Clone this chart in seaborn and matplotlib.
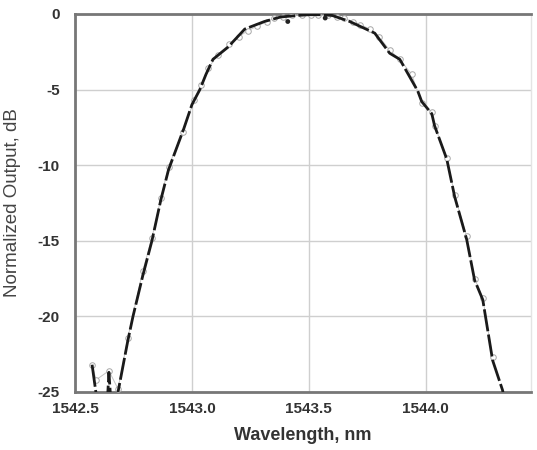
import matplotlib
matplotlib.use("Agg")
import matplotlib.pyplot as plt
from matplotlib.ticker import MultipleLocator
import pandas as pd
import seaborn as sns

wl_meas = [1542.573, 1542.598, 1542.637, 1542.645, 1542.655, 1542.672, 1542.684,
           1542.726, 1542.748, 1542.790, 1542.829, 1542.867, 1542.900, 1542.965,
           1543.000, 1543.034, 1543.060, 1543.090, 1543.154, 1543.226, 1543.310,
           1543.380, 1543.450, 1543.500, 1543.550, 1543.600, 1543.675,
           1543.782, 1543.846, 1543.889, 1543.966, 1543.983, 1544.026, 1544.038,
           1544.090, 1544.124, 1544.175, 1544.209, 1544.244, 1544.286, 1544.329,
           1544.340]
db_meas = [-23.2, -26.0, -26.0, -23.7, -26.0, -26.0, -25.0,
           -21.6, -20.0, -17.3, -15.0, -12.3, -10.3, -7.6,
           -6.0, -5.0, -4.0, -3.0, -2.2, -1.0, -0.5,
           -0.2, -0.1, -0.05, -0.05, -0.1, -0.5,
           -1.27, -2.6, -3.0, -5.1, -5.8, -6.6, -7.4,
           -9.6, -12.1, -14.9, -17.6, -18.9, -22.9, -24.9,
           -26.0]

# a couple of isolated dark points near the peak
wl_dots = [1543.41, 1543.57]
db_dots = [-0.5, -0.27]

# open-circle trace (light grey)
wl_circ = [1542.573, 1542.590, 1542.645, 1542.684, 1542.726, 1542.790, 1542.829,
           1542.867, 1542.900, 1542.960, 1543.010, 1543.040, 1543.070, 1543.110,
           1543.160, 1543.200, 1543.240, 1543.280, 1543.320, 1543.350, 1543.390,
           1543.430, 1543.470, 1543.510, 1543.540, 1543.580, 1543.620, 1543.650,
           1543.690, 1543.720, 1543.760, 1543.800, 1543.846, 1543.889, 1543.940,
           1543.983, 1544.026, 1544.038, 1544.090, 1544.124, 1544.175, 1544.209,
           1544.244, 1544.286]
db_circ = [-23.2, -24.2, -23.6, -24.8, -21.4, -17.0, -14.8,
           -12.2, -10.1, -7.8, -5.7, -4.7, -3.6, -2.7,
           -2.0, -1.5, -1.1, -0.8, -0.5, -0.3, -0.2,
           -0.1, -0.05, -0.05, -0.1, -0.1, -0.2, -0.3,
           -0.5, -0.7, -1.0, -1.5, -2.4, -3.0, -4.0,
           -5.9, -6.5, -7.4, -9.5, -12.0, -14.7, -17.5,
           -18.8, -22.7]

meas = pd.DataFrame({"wl": wl_meas, "db": db_meas})
circ = pd.DataFrame({"wl": wl_circ, "db": db_circ})
dots = pd.DataFrame({"wl": wl_dots, "db": db_dots})

sns.set_style("white")
plt.rcParams["font.family"] = ["Liberation Sans", "DejaVu Sans"]
plt.rcParams["axes.unicode_minus"] = False

fig = plt.figure(figsize=(5.37, 4.5), dpi=100)
ax = fig.add_axes([0.1397, 0.129, 0.849, 0.84])

sns.lineplot(data=circ, x="wl", y="db", sort=False, ax=ax, color="#c4c4c4",
             linewidth=0.7, marker="o", markersize=4, markerfacecolor="white",
             markeredgecolor="#a8a8a8", markeredgewidth=0.7, zorder=3)
sns.lineplot(data=meas, x="wl", y="db", sort=False, ax=ax, color="#1a1a1a",
             linewidth=2.0, zorder=4)
ax.lines[-1].set_dashes((8, 1.2))
sns.scatterplot(data=dots, x="wl", y="db", ax=ax, color="#222222", s=12,
                edgecolor="none", zorder=5)

ax.set_xlim(1542.5, 1544.45)
ax.set_ylim(-25, 0)
ax.xaxis.set_major_locator(MultipleLocator(0.5))
ax.xaxis.set_minor_locator(MultipleLocator(0.25))
ax.yaxis.set_major_locator(MultipleLocator(5))
ax.yaxis.set_minor_locator(MultipleLocator(2.5))
ax.xaxis.set_major_formatter(plt.FuncFormatter(lambda v, p: f"{v:.1f}"))

ax.grid(True, which="major", color="#cfcfcf", linewidth=1.0)
ax.set_axisbelow(True)

for side in ["top", "bottom", "left"]:
    ax.spines[side].set_color("#777777")
    ax.spines[side].set_linewidth(2.0)
ax.spines["right"].set_color("#e4e4e4")
ax.spines["right"].set_linewidth(1.0)

ax.tick_params(axis="both", which="major", direction="inout", length=7,
               width=1.2, color="#666666", labelsize=11, labelcolor="#333333", pad=4)
ax.tick_params(axis="both", which="minor", direction="inout", length=4,
               width=1.0, color="#666666")
ax.tick_params(axis="y", which="major", direction="out", length=5, pad=6)
for lab in ax.get_xticklabels() + ax.get_yticklabels():
    lab.set_fontweight("bold")

ax.set_xlabel("Wavelength, nm", fontsize=13, fontweight="bold", color="#333333", labelpad=8)
ax.set_ylabel("Normalized Output, dB", fontsize=13.5, color="#444444", labelpad=12)

fig.savefig("out.png", dpi=100)
